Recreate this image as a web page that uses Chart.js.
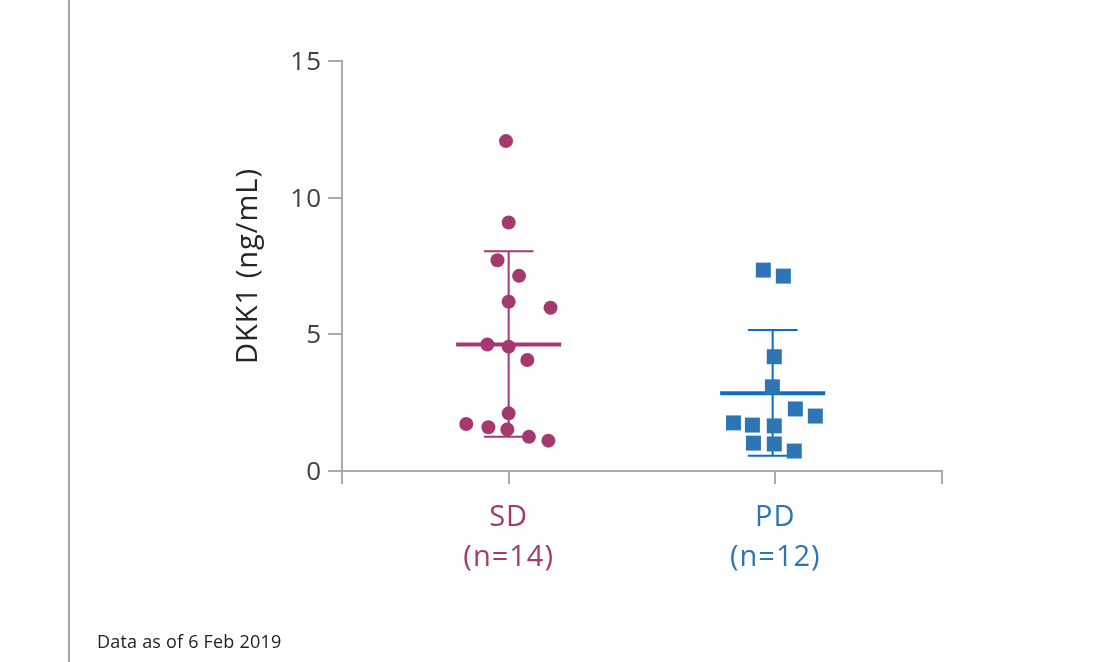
<!DOCTYPE html>
<html>
<head>
<meta charset="utf-8">
<script src="https://cdn.jsdelivr.net/npm/chart.js@4.4.1/dist/chart.umd.min.js"></script>
<style>
  html, body { margin: 0; padding: 0; background: #ffffff; }
  #wrap { position: relative; width: 1094px; height: 662px; overflow: hidden; }
  #c { position: absolute; left: 0; top: 0; }
  #leftRule { position: absolute; left: 68px; top: 0; width: 2px; height: 662px; background: #a6a6a6; }
  #footer { position: absolute; left: 97px; top: 629px; font-family: "Open Sans", sans-serif; font-size: 18px; line-height: 24px; letter-spacing: 0.2px; color: #222; white-space: nowrap; }
</style>
</head>
<body>
<div id="wrap">
  <div id="leftRule"></div>
  <canvas id="c" width="1094" height="662"></canvas>
  <div id="footer">Data as of 6 Feb 2019</div>
</div>
<script>
// ---- data ----
const categories = ['SD', 'PD'];
const categoryLabels = [['SD', '(n=14)'], ['PD', '(n=12)']];
const categoryPositions = [1, 2];

const sdX = [0.99, 1.00, 0.958, 1.039, 1.00, 1.157, 0.92, 1.00, 1.07, 1.00, 0.841, 0.924, 0.995, 1.076, 1.149];
const sdY = [12.07, 9.09, 7.71, 7.14, 6.19, 5.97, 4.63, 4.55, 4.06, 2.11, 1.72, 1.60, 1.52, 1.25, 1.11];

const pdX = [1.955, 2.03, 1.996, 1.989, 2.075, 2.15, 1.843, 1.914, 1.996, 1.918, 1.996, 2.071];
const pdY = [7.35, 7.13, 4.18, 3.08, 2.27, 2.01, 1.76, 1.68, 1.65, 1.02, 0.99, 0.73];

// summary: [centre x, mean, upper, lower]
const sdSummary = [1.00, 4.63, 8.04, 1.25];
const pdSummary = [1.99, 2.84, 5.16, 0.56];
const meanHalfWidth = 0.197;
const capHalfWidth = 0.093;

const yTicks = [0, 5, 10, 15];
const xRange = [0.375, 2.625];

// ---- styles ----
const SD_COLOR = '#a5386f';
const PD_COLOR = '#2e75b6';
const PD_LINE = '#0a6fc0';
const AXIS = '#aaaaaa';

function pts(xs, ys) { return xs.map((x, i) => ({ x: x, y: ys[i] })); }
function lineDS(data, color, width) {
  return { type: 'scatter', data: data, showLine: true, borderColor: color, borderWidth: width,
           pointRadius: 0, pointHoverRadius: 0, fill: false, clip: false };
}
function summarySets(s, color) {
  const [cx, m, hi, lo] = s;
  return [
    lineDS([{ x: cx - meanHalfWidth, y: m }, { x: cx + meanHalfWidth, y: m }], color, 4),
    lineDS([{ x: cx, y: lo }, { x: cx, y: hi }], color, 2),
    lineDS([{ x: cx - capHalfWidth, y: hi }, { x: cx + capHalfWidth, y: hi }], color, 2),
    lineDS([{ x: cx - capHalfWidth, y: lo }, { x: cx + capHalfWidth, y: lo }], color, 2)
  ];
}

const spacingPlugin = {
  id: 'spacing',
  beforeDraw(chart) { try { chart.ctx.letterSpacing = '1px'; } catch (e) {} }
};

const labelFor = {};
categoryPositions.forEach((p, i) => { labelFor[p] = categoryLabels[i]; });
const colorFor = { 1: SD_COLOR, 2: PD_COLOR };

new Chart(document.getElementById('c'), {
  type: 'scatter',
  data: {
    datasets: [
      { label: categories[0], data: pts(sdX, sdY), pointStyle: 'circle', pointRadius: 7, pointHoverRadius: 7,
        backgroundColor: SD_COLOR, borderWidth: 0, clip: false },
      { label: categories[1], data: pts(pdX, pdY), pointStyle: 'rect', pointRadius: 10.6, pointHoverRadius: 10.6,
        backgroundColor: PD_COLOR, borderWidth: 0, clip: false },
      ...summarySets(sdSummary, SD_COLOR),
      ...summarySets(pdSummary, PD_LINE)
    ]
  },
  options: {
    responsive: false,
    animation: false,
    devicePixelRatio: 1,
    events: [],
    layout: { padding: { left: 231, top: 61, right: 152, bottom: 0 } },
    plugins: { legend: { display: false }, tooltip: { enabled: false }, title: { display: false } },
    scales: {
      x: {
        type: 'linear',
        min: xRange[0], max: xRange[1],
        afterBuildTicks: (axis) => { axis.ticks = [xRange[0], ...categoryPositions, xRange[1]].map(v => ({ value: v })); },
        afterFit: (scale) => { scale.height = 191; },
        grid: { display: true, drawOnChartArea: false, drawTicks: true, tickLength: 13, color: AXIS, lineWidth: 2 },
        border: { display: true, color: AXIS, width: 2 },
        ticks: {
          autoSkip: false, maxRotation: 0, minRotation: 0, padding: 14,
          font: { family: '"Open Sans", sans-serif', size: 29, lineHeight: 1.37 },
          color: (ctx) => colorFor[ctx.tick && ctx.tick.value] || '#333',
          callback: (v) => labelFor[v] || ''
        }
      },
      y: {
        type: 'linear',
        min: 0, max: 15,
        afterBuildTicks: (axis) => { axis.ticks = yTicks.map(v => ({ value: v })); },
        afterFit: (scale) => { scale.width = 111; },
        grid: { display: true, drawOnChartArea: false, drawTicks: true, tickLength: 14, color: AXIS, lineWidth: 2 },
        border: { display: true, color: AXIS, width: 2 },
        ticks: {
          padding: 6, labelOffset: 1.5,
          font: { family: '"Open Sans", sans-serif', size: 26 },
          color: '#404040'
        },
        title: {
          display: true, text: 'DKK1 (ng/mL)', color: '#262626',
          font: { family: '"Open Sans", sans-serif', size: 29, lineHeight: 1.2 },
          padding: { top: 0, bottom: 0 }
        }
      }
    }
  },
  plugins: [spacingPlugin]
});
</script>
</body>
</html>
